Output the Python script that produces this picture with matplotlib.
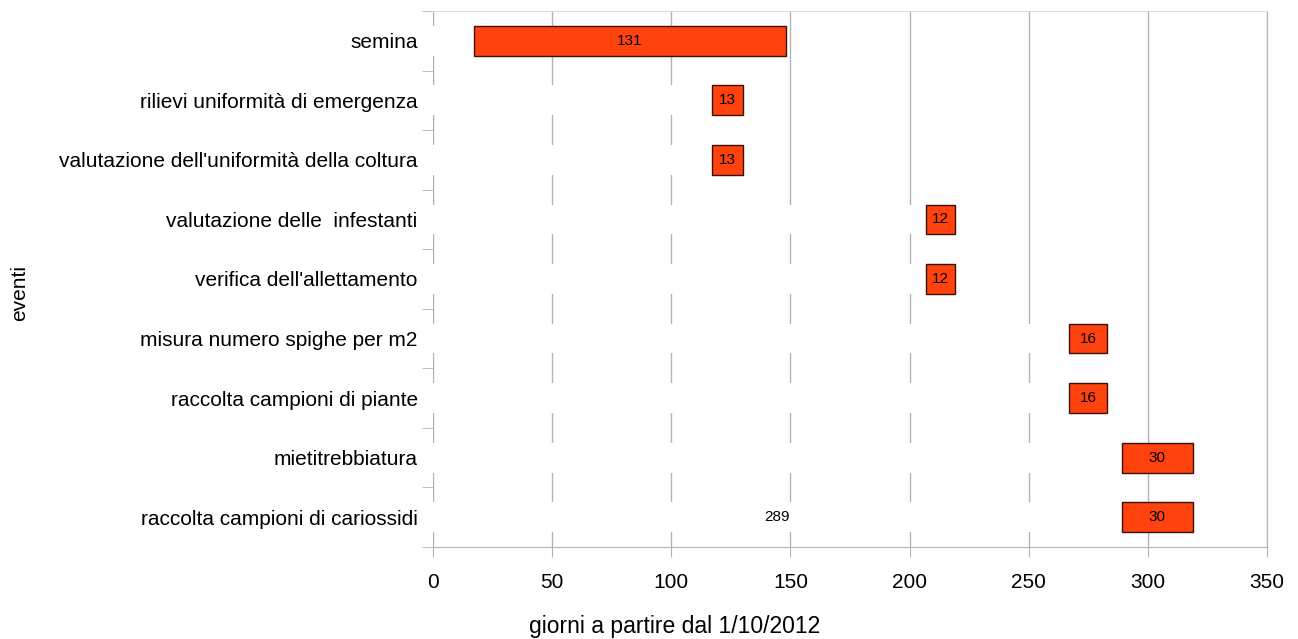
import matplotlib
matplotlib.use("Agg")
import matplotlib.pyplot as plt

# events, top to bottom
events = [
    "semina",
    "rilievi uniformità di emergenza",
    "valutazione dell'uniformità della coltura",
    "valutazione delle  infestanti",
    "verifica dell'allettamento",
    "misura numero spighe per m2",
    "raccolta campioni di piante",
    "mietitrebbiatura",
    "raccolta campioni di cariossidi",
]
start_day = [17, 117, 117, 207, 207, 267, 267, 289, 289]
duration = [131, 13, 13, 12, 12, 16, 16, 30, 30]

plt.rcParams["font.family"] = ["Liberation Sans", "DejaVu Sans"]

fig = plt.figure(figsize=(12.98, 6.39), dpi=100)
ax = fig.add_axes([0.3336, 0.1440, 0.6425, 0.8388])

ypos = list(range(len(events)))

# invisible offset bars (white) and the visible duration bars
offset = ax.barh(ypos, start_day, height=0.5, color="white", linewidth=0, zorder=1)
bars = ax.barh(ypos, duration, left=start_day, height=0.5, color="#ff420e",
               edgecolor="#3a1205", linewidth=1, zorder=2)

ax.bar_label(bars, labels=[str(d) for d in duration], label_type="center", fontsize=11)
offset_labels = [""] * (len(start_day) - 1) + [str(start_day[-1])]
ax.bar_label(offset, labels=offset_labels, label_type="center", fontsize=11)

ax.set_xlim(0, 350)
ax.set_xticks(range(0, 351, 50))
ax.set_ylim(len(events) - 0.5, -0.5)
ax.set_yticks(ypos)
ax.set_yticklabels(events)
ax.set_yticks([i - 0.5 for i in range(len(events) + 1)], minor=True)

ax.set_axisbelow(True)
ax.grid(axis="x", color="#b3b3b3", linewidth=1)
ax.grid(axis="y", visible=False)

grey = "#b3b3b3"
ax.tick_params(axis="y", which="major", length=0, pad=11, labelsize=15)
ax.tick_params(axis="y", which="minor", length=8, color=grey, direction="out")
ax.tick_params(axis="x", length=7, color=grey, direction="out", pad=12, labelsize=15)

ax.spines["left"].set_color("#dddddd")
ax.spines["left"].set_zorder(0.4)
ax.spines["top"].set_color("#dddddd")
ax.spines["bottom"].set_color(grey)
ax.spines["right"].set_color(grey)

ax.set_xlabel("giorni a partire dal 1/10/2012", fontsize=16.5)
ax.xaxis.set_label_coords(0.29, -0.126)
ax.set_ylabel("eventi", fontsize=15)
ax.yaxis.set_label_coords(-0.484, 0.474)

fig.savefig("out.png", dpi=100)
